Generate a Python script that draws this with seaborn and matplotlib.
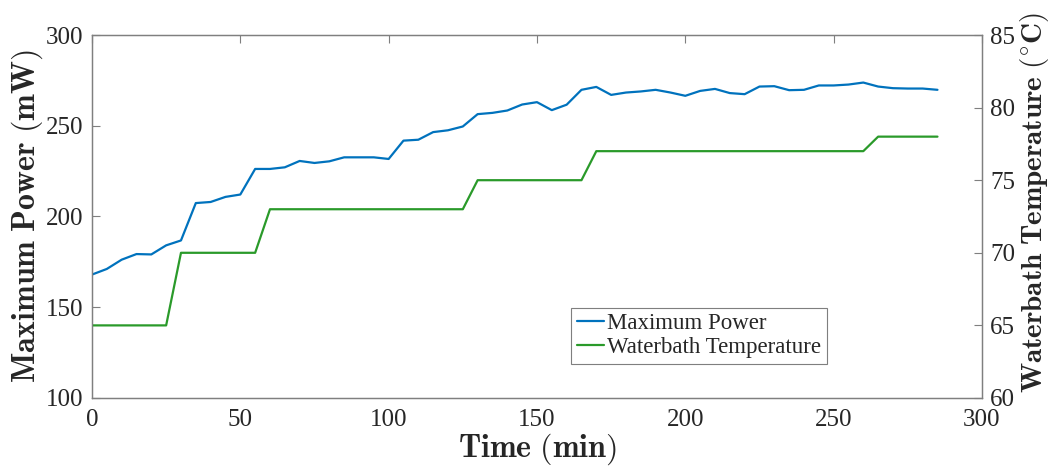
import numpy as np
import pandas as pd
import matplotlib
matplotlib.use('Agg')
import matplotlib.pyplot as plt
import seaborn as sns

# 数据：每5分钟一个点
time_min = list(range(0, 290, 5))
max_power = [168.0, 171.1, 176.2, 179.3, 179.1, 184.1, 186.8, 207.4, 208.0, 210.8,
             212.1, 226.2, 226.2, 227.1, 230.6, 229.5, 230.4, 232.6, 232.6, 232.6,
             231.7, 241.8, 242.3, 246.5, 247.5, 249.6, 256.4, 257.1, 258.4, 261.7,
             263.0, 258.6, 261.6, 269.8, 271.4, 267.0, 268.3, 268.9, 269.8, 268.3,
             266.5, 269.2, 270.3, 268.0, 267.4, 271.6, 271.8, 269.6, 269.8, 272.2,
             272.2, 272.7, 273.8, 271.6, 270.7, 270.5, 270.5, 269.8]
bath_temp = [65]*6 + [70]*6 + [73]*14 + [75]*8 + [77]*19 + [78]*5

df = pd.DataFrame({'time': time_min, 'power': max_power, 'temp': bath_temp})

sns.set_style('white')
plt.rcParams['font.family'] = ['Liberation Serif', 'DejaVu Serif']
plt.rcParams['mathtext.fontset'] = 'cm'

fig = plt.figure(figsize=(10.56, 4.68), dpi=100)
ax = fig.add_axes([0.0871, 0.1496, 0.8428, 0.7756])
ax2 = ax.twinx()

blue = '#0072BD'
green = '#2a9a2a'
txt = '#262626'
edge = '#7f7f7f'

sns.lineplot(data=df, x='time', y='power', ax=ax, color=blue, lw=1.6, label='Maximum Power', legend=False)
sns.lineplot(data=df, x='time', y='temp', ax=ax2, color=green, lw=1.6, label='Waterbath Temperature', legend=False)

ax.set_xlim(0, 300)
ax.set_ylim(100, 300)
ax2.set_ylim(60, 85)
ax.set_xticks(np.arange(0, 301, 50))
ax.set_yticks(np.arange(100, 301, 50))
ax2.set_yticks(np.arange(60, 86, 5))

ax.set_xlabel(r'$\mathbf{Time\ (min)}$', fontsize=23, color=txt, labelpad=0)
ax.set_ylabel(r'$\mathbf{Maximum\ Power\ (mW)}$', fontsize=23, color=txt, labelpad=1)
ax2.set_ylabel(r'$\mathbf{Waterbath\ Temperature\ (^{\circ}C)}$', fontsize=21, color=txt, labelpad=2)
ax2.yaxis.label.set_y(0.54)

ax.tick_params(axis='both', direction='in', length=6, width=0.8, colors=edge, labelcolor=txt,
               labelsize=18, top=True, right=False)
ax.tick_params(axis='x', pad=8)
ax.tick_params(axis='y', pad=6)
ax2.tick_params(axis='y', direction='in', length=6, width=0.8, colors=edge, labelcolor=txt,
                labelsize=18, pad=6)
for a in (ax, ax2):
    for s in a.spines.values():
        s.set_visible(True)
        s.set_color(edge)
        s.set_linewidth(0.9)

h1, l1 = ax.get_legend_handles_labels()
h2, l2 = ax2.get_legend_handles_labels()
leg = ax2.legend(h1 + h2, l1 + l2, loc='lower left', bbox_to_anchor=(0.538, 0.094),
                 fontsize=16.5, frameon=True, fancybox=False, framealpha=1,
                 edgecolor=edge, handlelength=1.2, handletextpad=0.15,
                 borderpad=0.25, labelspacing=0.12, borderaxespad=0)
leg.get_frame().set_linewidth(0.8)
for t in leg.get_texts():
    t.set_color(txt)

fig.savefig('out.png', dpi=100)
